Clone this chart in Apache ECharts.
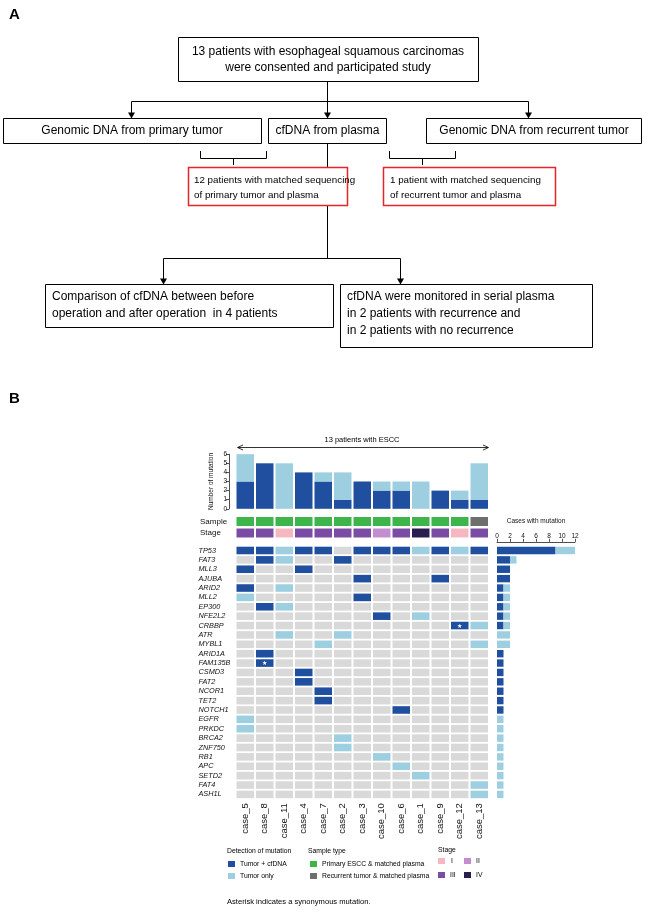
<!DOCTYPE html>
<html><head><meta charset="utf-8">
<script src="https://cdn.jsdelivr.net/npm/echarts@6/dist/echarts.min.js"></script>
<style>html,body{margin:0;padding:0;background:#fff}#c{width:647px;height:912px}</style>
</head><body><div id="c"></div>
<script>
// ---------- DATA ----------
const cases = ['case_5','case_8','case_11','case_4','case_7','case_2','case_3','case_10','case_6','case_1','case_9','case_12','case_13'];
const genes = ['TP53','FAT3','MLL3','AJUBA','ARID2','MLL2','EP300','NFE2L2','CRBBP','ATR','MYBL1','ARID1A','FAM135B','CSMD3','FAT2','NCOR1','TET2','NOTCH1','EGFR','PRKDC','BRCA2','ZNF750','RB1','APC','SETD2','FAT4','ASH1L'];
// mutations per case (top bars)
const caseTumorCfDNA = [3,5,0,4,3,1,3,2,2,0,2,1,1];
const caseTumorOnly  = [3,0,5,0,1,3,0,1,1,3,0,1,4];
// sample type per case: P = primary ESCC & matched plasma, R = recurrent tumor & matched plasma
const sampleType = ['P','P','P','P','P','P','P','P','P','P','P','P','R'];
const stage = ['III','III','I','III','III','III','III','II','III','IV','III','I','III'];
// mutation matrix: one string per gene, one char per case. D = tumor + cfDNA, L = tumor only, S = tumor + cfDNA (synonymous, asterisk), . = none
const mutationRows = [
  'DDLDD.DDDLDLD', // TP53
  '.DL..D.......', // FAT3
  'D..D.........', // MLL3
  '......D...D..', // AJUBA
  'D.L..........', // ARID2
  'L.....D......', // MLL2
  '.DL..........', // EP300
  '.......D.L...', // NFE2L2
  '...........SL', // CRBBP
  '..L..L.......', // ATR
  '....L.......L', // MYBL1
  '.D...........', // ARID1A
  '.S...........', // FAM135B
  '...D.........', // CSMD3
  '...D.........', // FAT2
  '....D........', // NCOR1
  '....D........', // TET2
  '........D....', // NOTCH1
  'L............', // EGFR
  'L............', // PRKDC
  '.....L.......', // BRCA2
  '.....L.......', // ZNF750
  '.......L.....', // RB1
  '........L....', // APC
  '.........L...', // SETD2
  '............L', // FAT4
  '............L'  // ASH1L
];
// cases with mutation per gene (right bars)
const geneTumorCfDNA = [9,2,2,2,1,1,1,1,1,0,0,1,1,1,1,1,1,1,0,0,0,0,0,0,0,0,0];
const geneTumorOnly  = [3,1,0,0,1,1,1,1,1,2,2,0,0,0,0,0,0,0,1,1,1,1,1,1,1,1,1];

// ---------- STYLE ----------
const FONT = '"Liberation Sans", Arial, sans-serif';
const DARK = '#1f4f9e', LIGHT = '#9dcfe0', GREY = '#d9d9d9';
const SAMPLE_COL = {P:'#3db54b', R:'#6e6e6e'};
const STAGE_COL = {'I':'#f6b8c0','II':'#c28ecf','III':'#7a4ca3','IV':'#2a1e50'};
const MUT_COL = {'.':GREY, 'D':DARK, 'L':LIGHT, 'S':DARK};

const matrixData = [];
mutationRows.forEach((row, gi) => { row.split('').forEach((ch, ci) => matrixData.push({value:[ci, gi], code:ch})); });
const sampleData = sampleType.map((t, i) => ({value:[i, 0], code:t}));
const stageData = stage.map((t, i) => ({value:[i, 0], code:t}));

function cellRenderer(data, colMap, padY) {
  return function(params, api) {
    const c = api.coord([api.value(0), api.value(1)]);
    const s = api.size([1, 1]);
    const w = s[0] - 2, h = s[1] - padY;
    const code = data[params.dataIndex].code;
    const children = [{type:'rect', shape:{x:c[0]-w/2, y:c[1]-h/2, width:w, height:h}, style:{fill:colMap[code]}}];
    if (code === 'S') children.push({type:'text', style:{text:'★', x:c[0], y:c[1]+0.5, align:'center', verticalAlign:'middle', fill:'#fff', fontSize:6}});
    return {type:'group', children};
  };
}

// ---------- GRAPHICS (flowchart, legend) ----------
const g = [];
function rect(x,y,w,h,stroke,lw){ g.push({type:'rect', shape:{x,y,width:w,height:h}, style:{fill:'#fff', stroke:stroke||'#000', lineWidth:lw||1}}); }
function txt(x,y,t,size,opt){ opt=opt||{}; g.push({type:'text', x, y, style:{text:t, fontFamily:FONT, fontSize:size, fill:opt.fill||'#000', fontWeight:opt.bold?'bold':'normal', align:opt.align||'left', verticalAlign:'middle'}}); }
function line(x1,y1,x2,y2,lw){ g.push({type:'line', shape:{x1,y1,x2,y2}, style:{stroke:'#000', lineWidth:lw||1}}); }
function arrowDown(x,y1,y2){ line(x,y1,x,y2-5); g.push({type:'polygon', shape:{points:[[x-3.5,y2-6],[x+3.5,y2-6],[x,y2]]}, style:{fill:'#000'}}); }
function sq(x,y,w,h,c){ g.push({type:'rect', shape:{x,y,width:w,height:h}, style:{fill:c}}); }

txt(9,15,'A',15,{bold:true});
txt(9,399,'B',15,{bold:true});
const F = 12;
const FR = 9.8;
// long middle line first (hidden behind boxes)
line(327.5,143.5,327.5,258.5);
rect(178.5,37.5,300,44);
txt(328,52,'13 patients with esophageal squamous carcinomas',F,{align:'center'});
txt(328,68,'were consented and participated study',F,{align:'center'});
line(327.5,81.5,327.5,101.5);
line(131.5,101.5,528.5,101.5);
arrowDown(131.5,101.5,118.5); arrowDown(327.5,101.5,118.5); arrowDown(528.5,101.5,118.5);
rect(3.5,118.5,258,25);
txt(132,131,'Genomic DNA from primary tumor',F,{align:'center'});
rect(268.5,118.5,118,25);
txt(327.5,131,'cfDNA from plasma',F,{align:'center'});
rect(426.5,118.5,215,25);
txt(534,131,'Genomic DNA from recurrent tumor',F,{align:'center'});
// braces
g.push({type:'polyline', shape:{points:[[200.5,151],[200.5,158.5],[266.5,158.5],[266.5,151]]}, style:{stroke:'#000', fill:null, lineWidth:1}});
line(233.5,158.5,233.5,165);
g.push({type:'polyline', shape:{points:[[389.5,151],[389.5,158.5],[455.5,158.5],[455.5,151]]}, style:{stroke:'#000', fill:null, lineWidth:1}});
line(422.5,158.5,422.5,165);
rect(188.5,167.5,159,38,'#e3262b',1.5);
txt(194,180,'12 patients with matched sequencing',FR);
txt(194,195,'of primary tumor and plasma',FR);
rect(383.5,167.5,172,38,'#e3262b',1.5);
txt(390,180,'1 patient with matched sequencing',FR);
txt(390,195,'of recurrent tumor and plasma',FR);
line(163.5,258.5,400.5,258.5);
arrowDown(163.5,258.5,284.5); arrowDown(400.5,258.5,284.5);
rect(45.5,284.5,288,43);
txt(52,297,'Comparison of cfDNA between before',F);
txt(52,314,'operation and after operation  in 4 patients',F);
rect(340.5,284.5,252,63);
txt(347,297,'cfDNA were monitored in serial plasma',F);
txt(347,314,'in 2 patients with recurrence and',F);
txt(347,331,'in 2 patients with no recurrence',F);

// top arrow
txt(362,439.5,'13 patients with ESCC',7.5,{align:'center'});
line(238,447.5,488,447.5,0.8);
g.push({type:'polyline', shape:{points:[[243,445],[237.5,447.5],[243,450]]}, style:{stroke:'#000', fill:null, lineWidth:0.8}});
g.push({type:'polyline', shape:{points:[[483,445],[488.5,447.5],[483,450]]}, style:{stroke:'#000', fill:null, lineWidth:0.8}});

// legend
const LF = 6.8;
txt(227,851,'Detection of mutation',LF);
sq(228,861,7,6,DARK); txt(240,864,'Tumor + cfDNA',LF);
sq(228,873,7,6,LIGHT); txt(240,876,'Tumor only',LF);
txt(308,851,'Sample type',LF);
sq(310,861,7,6,SAMPLE_COL.P); txt(322,864,'Primary ESCC & matched plasma',LF);
sq(310,873,7,6,SAMPLE_COL.R); txt(322,876,'Recurrent tumor & matched plasma',LF);
txt(438,850,'Stage',LF);
sq(438,858,7,6,STAGE_COL.I); txt(451,861,'I',LF);
sq(464,858,7,6,STAGE_COL.II); txt(476,861,'II',LF);
sq(438,872,7,6,STAGE_COL.III); txt(450,875,'III',LF);
sq(464,872,7,6,STAGE_COL.IV); txt(476,875,'IV',LF);
txt(227,902,'Asterisk indicates a synonymous mutation.',7.6);

// ---------- CHART ----------
const L = 235.5, W = 253.5;
const MT = 545.8, MH = 253.3;
const axisCol = '#222';
const noAxis = {axisLine:{show:false}, axisTick:{show:false}, splitLine:{show:false}};
const option = {
  animation:false,
  textStyle:{fontFamily:FONT},
  grid:[
    {left:L, top:454.2, width:W, height:54.6},
    {left:L, top:516, width:W, height:11},
    {left:L, top:527.5, width:W, height:11},
    {left:L, top:MT, width:W, height:MH},
    {left:497, top:MT, width:78, height:MH}
  ],
  xAxis:[
    Object.assign({gridIndex:0, type:'category', data:cases, axisLabel:{show:false}}, noAxis),
    Object.assign({gridIndex:1, type:'category', data:cases, axisLabel:{show:false}}, noAxis),
    Object.assign({gridIndex:2, type:'category', data:cases, axisLabel:{show:false}}, noAxis),
    Object.assign({gridIndex:3, type:'category', data:cases, axisLabel:{rotate:90, fontSize:9.5, margin:4, color:'#111'}}, noAxis),
    {gridIndex:4, type:'value', position:'top', min:0, max:12, interval:2, offset:4,
     axisLine:{show:true, lineStyle:{color:axisCol, width:0.8}}, axisTick:{show:true, length:3, lineStyle:{color:axisCol, width:0.8}},
     axisLabel:{fontSize:6.5, margin:2, color:'#111'}, splitLine:{show:false},
     name:'Cases with mutation', nameLocation:'middle', nameGap:17, nameTextStyle:{fontSize:6.5, color:'#111'}}
  ],
  yAxis:[
    {gridIndex:0, type:'value', min:0, max:6, interval:1, offset:6.5,
     axisLine:{show:true, lineStyle:{color:axisCol, width:0.8}}, axisTick:{show:true, length:3, lineStyle:{color:axisCol, width:0.8}},
     axisLabel:{fontSize:6.5, margin:2, color:'#111'}, splitLine:{show:false},
     name:'Number of mutation', nameLocation:'middle', nameGap:14, nameRotate:90, nameTextStyle:{fontSize:6.5, color:'#111'}},
    Object.assign({gridIndex:1, type:'category', data:['Sample'], axisLabel:{align:'left', margin:35.5, fontSize:8, color:'#111'}}, noAxis),
    Object.assign({gridIndex:2, type:'category', data:['Stage'], axisLabel:{align:'left', margin:35.5, fontSize:8, color:'#111'}}, noAxis),
    Object.assign({gridIndex:3, type:'category', data:genes, inverse:true, axisLabel:{align:'left', margin:37, fontSize:7.3, fontStyle:'italic', color:'#111', interval:0}}, noAxis),
    Object.assign({gridIndex:4, type:'category', data:genes, inverse:true, axisLabel:{show:false}}, noAxis)
  ],
  series:[
    {type:'bar', xAxisIndex:0, yAxisIndex:0, stack:'c', barWidth:17.5, data:caseTumorCfDNA, itemStyle:{color:DARK}},
    {type:'bar', xAxisIndex:0, yAxisIndex:0, stack:'c', barWidth:17.5, data:caseTumorOnly, itemStyle:{color:LIGHT}},
    {type:'custom', xAxisIndex:1, yAxisIndex:1, data:sampleData, renderItem:cellRenderer(sampleData, SAMPLE_COL, 2)},
    {type:'custom', xAxisIndex:2, yAxisIndex:2, data:stageData, renderItem:cellRenderer(stageData, STAGE_COL, 2)},
    {type:'custom', xAxisIndex:3, yAxisIndex:3, data:matrixData, renderItem:cellRenderer(matrixData, MUT_COL, 1.8)},
    {type:'bar', xAxisIndex:4, yAxisIndex:4, stack:'g', barWidth:7.4, data:geneTumorCfDNA, itemStyle:{color:DARK}},
    {type:'bar', xAxisIndex:4, yAxisIndex:4, stack:'g', barWidth:7.4, data:geneTumorOnly, itemStyle:{color:LIGHT}}
  ],
  graphic:g
};
const chart = echarts.init(document.getElementById('c'), null, {renderer:'canvas'});
chart.setOption(option);
</script>
</body></html>
